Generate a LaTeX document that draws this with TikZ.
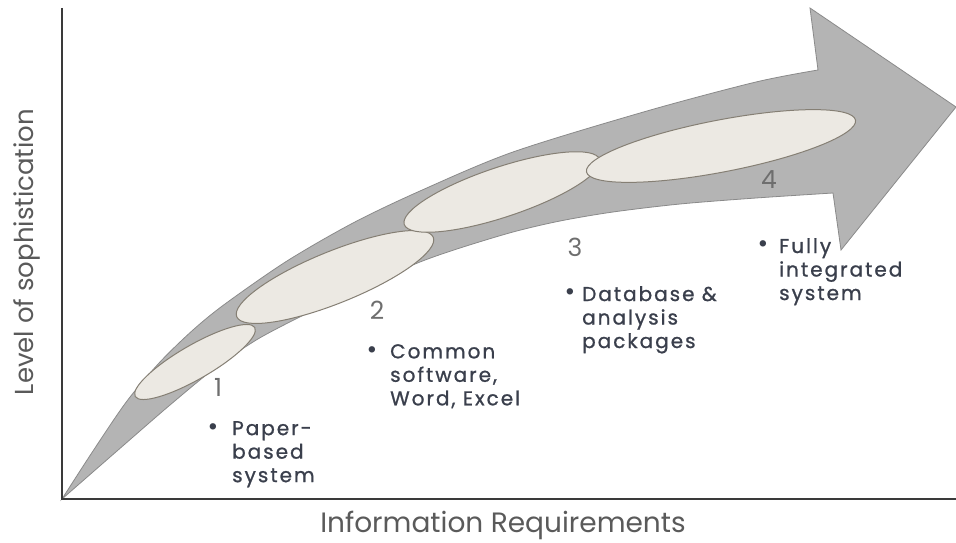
\documentclass[tikz,border=0pt]{standalone}
\usepackage{fontspec}
\setmainfont{Poppins}
\newfontfamily\spaced[LetterSpace=10,FakeBold=1]{Poppins}
\usetikzlibrary{shapes.geometric}
\definecolor{band}{HTML}{B4B4B4}
\definecolor{bandline}{HTML}{8A8A8A}
\definecolor{stagefill}{HTML}{ECE9E3}
\definecolor{stageline}{HTML}{857F74}
\definecolor{axisgrey}{HTML}{3A3A3A}
\definecolor{ink}{HTML}{3A3F4C}
\definecolor{soft}{HTML}{6E6E6E}
\definecolor{label}{HTML}{5A5A5A}
\newcommand{\itemtxt}{\spaced\fontsize{20}{23.5}\selectfont}
\newcommand{\dottxt}{\fontsize{26}{28}\selectfont}
\newcommand{\numtxt}{\fontsize{25}{28}\selectfont}
\newcommand{\axtxt}{\fontsize{28}{32}\selectfont}

\begin{document}
\begin{tikzpicture}[x=1pt,y=-1pt,
  stage/.style={ellipse,draw=stageline,fill=stagefill,line width=1pt,inner sep=0},
  num/.style={inner sep=0,font=\numtxt,text=soft},
  item/.style={anchor=north west,inner sep=0,align=left,font=\itemtxt,text=ink},
  dot/.style={anchor=base,inner sep=0,font=\dottxt,text=ink}]
\useasboundingbox (0,0) rectangle (956,543);
% growth arrow
\filldraw[fill=band,draw=bandline,line width=0.8pt,line join=miter]
  plot[smooth] coordinates {(62,499) (93,451) (127,401) (160,362) (193,330) (225,304)
    (287,261) (353,223) (420,191) (513,152) (647,111) (756,82) (818,70)}
  -- (810,8) -- (956,107) -- (841,250) -- (833,193)
  -- plot[smooth] coordinates {(833,193) (756,198) (680,204) (613,212) (560,221)
    (513,232) (460,248) (420,262) (367,285) (320,307) (280,327) (253,342)
    (215,368) (170,405) (125,444) (62,499)}
  -- cycle;
% stages
\node[stage,minimum width=138,minimum height=34,rotate=30] (stage1) at (195,362) {};
\node[stage,minimum width=212,minimum height=52,rotate=22] (stage2) at (335,277) {};
\node[stage,minimum width=206,minimum height=50,rotate=18.4] (stage3) at (502,192) {};
\node[stage,minimum width=274,minimum height=52,rotate=10.9] (stage4) at (721,146) {};
% axes
\coordinate (origin) at (62,499);
\coordinate (ytop) at (62,8);
\coordinate (xend) at (956,499);
\draw[axisgrey,line width=2.5pt] (ytop) -- (origin) -- (xend);
\node[rotate=90,inner sep=0,font=\fontsize{26}{30}\selectfont,text=label] (ylab) at (27,252) {Level of sophistication};
\node[inner sep=0,font=\axtxt,text=label] (xlab) at (503,525) {Information Requirements};
% numbers
\node[num] (n1) at (218,387) {1};
\node[num] (n2) at (377,310) {2};
\node[num] (n3) at (575,247) {3};
\node[num] (n4) at (769,180) {4};
% items
\node[dot] (b1) at (213,435) {\textbullet};
\node[item] (t1) at (232,421) {Paper-\\based\\system};
\node[dot] (b2) at (372,358) {\textbullet};
\node[item] (t2) at (390,344) {Common\\software,\\Word, Excel};
\node[dot] (b3) at (570,300) {\textbullet};
\node[item] (t3) at (582,286) {Database \&\\analysis\\packages};
\node[dot] (b4) at (763,252) {\textbullet};
\node[item] (t4) at (779,238) {Fully\\integrated\\system};
\end{tikzpicture}
\end{document}
